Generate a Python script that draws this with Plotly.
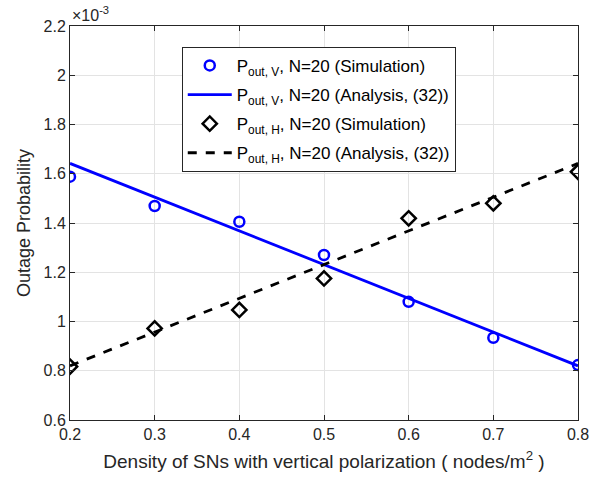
import plotly.graph_objects as go

# Density of SNs with vertical polarization (nodes/m^2)
density = [0.2, 0.3, 0.4, 0.5, 0.6, 0.7, 0.8]

# Outage probability, in units of 1e-3
p_v_sim = [1.588, 1.469, 1.405, 1.270, 1.080, 0.934, 0.823]
p_v_ana = [1.642, 1.505, 1.368, 1.231, 1.094, 0.957, 0.820]
p_h_sim = [0.817, 0.972, 1.047, 1.175, 1.419, 1.480, 1.608]
p_h_ana = [0.820, 0.957, 1.094, 1.231, 1.368, 1.505, 1.642]

x_ticks = [0.2, 0.3, 0.4, 0.5, 0.6, 0.7, 0.8]
y_ticks = [0.6, 0.8, 1.0, 1.2, 1.4, 1.6, 1.8, 2.0, 2.2]
y_tick_text = ["0.6", "0.8", "1", "1.2", "1.4", "1.6", "1.8", "2", "2.2"]

BLUE = "#0000FF"
BLACK = "#000000"
FONT = "Liberation Sans, Arial, sans-serif"
TEXT = "#262626"

fig = go.Figure()
fig.add_trace(go.Scatter(
    x=density, y=p_v_sim, mode="markers", legendgroup="a",
    name="P<sub>out, V</sub>, N=20 (Simulation)",
    marker=dict(symbol="circle-open", size=10, color=BLUE, line=dict(width=2.5, color=BLUE)),
))
fig.add_trace(go.Scatter(
    x=density, y=p_v_ana, mode="lines", legendgroup="b",
    name="P<sub>out, V</sub>, N=20 (Analysis, (32))",
    line=dict(color=BLUE, width=2.8),
))
fig.add_trace(go.Scatter(
    x=density, y=p_h_sim, mode="markers", legendgroup="c",
    name="P<sub>out, H</sub>, N=20 (Simulation)",
    marker=dict(symbol="diamond-open", size=11, color=BLACK, line=dict(width=2.5, color=BLACK)),
))
fig.add_trace(go.Scatter(
    x=density, y=p_h_ana, mode="lines", legendgroup="d",
    name="P<sub>out, H</sub>, N=20 (Analysis, (32))",
    line=dict(color=BLACK, width=2.8, dash="dash"),
))

axis_common = dict(
    showgrid=True, gridcolor="#e3e3e3", gridwidth=1,
    showline=True, linecolor=TEXT, linewidth=1, mirror="ticks",
    ticks="inside", ticklen=5, tickcolor=TEXT,
    zeroline=False,
    tickfont=dict(family=FONT, size=16, color=TEXT),
)

fig.update_xaxes(
    range=[0.2, 0.8], tickvals=x_ticks, ticktext=[f"{v:.1f}" for v in x_ticks],
    title=dict(text="Density of SNs with vertical polarization ( nodes/m<sup>2</sup> )",
               font=dict(family=FONT, size=19, color=TEXT),
               standoff=12),
    **axis_common,
)
fig.update_yaxes(
    range=[0.6, 2.2], tickvals=y_ticks, ticktext=y_tick_text,
    title=dict(text="Outage Probability",
               font=dict(family=FONT, size=18, color=TEXT),
               standoff=8),
    **axis_common,
)

fig.add_annotation(
    text="×10<sup>-3</sup>", xref="paper", yref="paper", x=0.0, y=1.0,
    xanchor="left", yanchor="bottom", showarrow=False,
    font=dict(family=FONT, size=16, color=TEXT),
)

fig.update_layout(
    width=602, height=484,
    margin=dict(l=70, r=24, t=26, b=64),
    paper_bgcolor="white", plot_bgcolor="white",
    showlegend=True,
    legend=dict(
        x=0.22, y=0.947, xanchor="left", yanchor="top",
        bgcolor="white", bordercolor=TEXT, borderwidth=1,
        font=dict(family=FONT, size=17, color="#000000"),
        tracegroupgap=4, itemwidth=44,
    ),
)

fig.write_html("out.html")
